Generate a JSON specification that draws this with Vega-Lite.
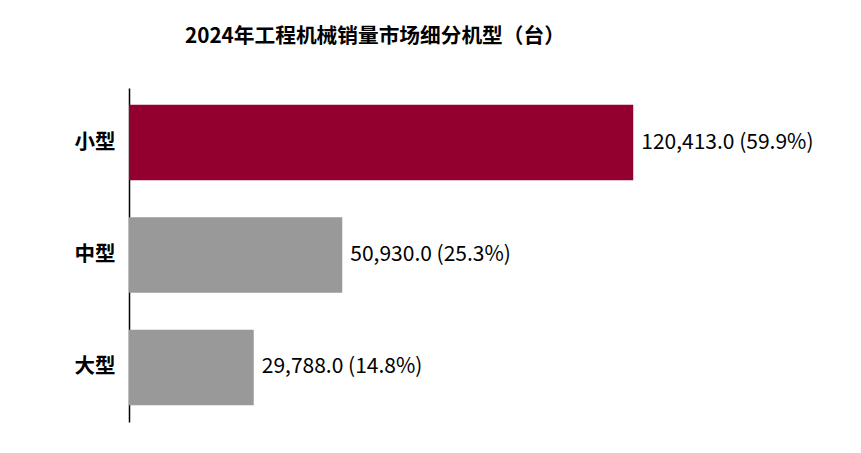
{
  "$schema": "https://vega.github.io/schema/vega-lite/v6.json",
  "width": 670,
  "height": 334,
  "autosize": {"type": "none"},
  "padding": {"left": 129, "top": 88, "right": 62, "bottom": 31},
  "background": "white",
  "config": {"view": {"stroke": null}, "font": "Noto Sans CJK SC"},
  "title": {
    "text": "2024年工程机械销量市场细分机型（台）",
    "anchor": "start",
    "frame": "group",
    "dx": 56,
    "offset": 40,
    "fontSize": 20.7,
    "fontWeight": "bold",
    "font": "Noto Sans CJK SC",
    "color": "#000000"
  },
  "data": {
    "values": [
      {"type": "小型", "value": 120413.0, "label": "120,413.0 (59.9%)", "hl": "yes"},
      {"type": "中型", "value": 50930.0, "label": "50,930.0 (25.3%)", "hl": "no"},
      {"type": "大型", "value": 29788.0, "label": "29,788.0 (14.8%)", "hl": "no"}
    ]
  },
  "encoding": {
    "y": {
      "field": "type",
      "type": "nominal",
      "sort": ["小型", "中型", "大型"],
      "scale": {"paddingInner": 0.33, "paddingOuter": 0.15},
      "axis": {
        "title": null,
        "ticks": false,
        "domain": true,
        "domainColor": "#000000",
        "domainWidth": 1.5,
        "labelFont": "Noto Sans CJK SC",
        "labelFontSize": 20.5,
        "labelFontWeight": "bold",
        "labelColor": "#000000",
        "labelPadding": 14
      }
    },
    "x": {
      "field": "value",
      "type": "quantitative",
      "scale": {"domain": [0, 160000], "nice": false},
      "axis": null
    }
  },
  "layer": [
    {
      "mark": {"type": "bar"},
      "encoding": {
        "color": {
          "field": "hl",
          "type": "nominal",
          "scale": {"domain": ["yes", "no"], "range": ["#930030", "#999999"]},
          "legend": null
        }
      }
    },
    {
      "mark": {"type": "text", "align": "left", "baseline": "middle", "dx": 8, "fontSize": 21, "font": "Noto Sans CJK SC", "color": "#000000"},
      "encoding": {"text": {"field": "label", "type": "nominal"}}
    }
  ]
}
